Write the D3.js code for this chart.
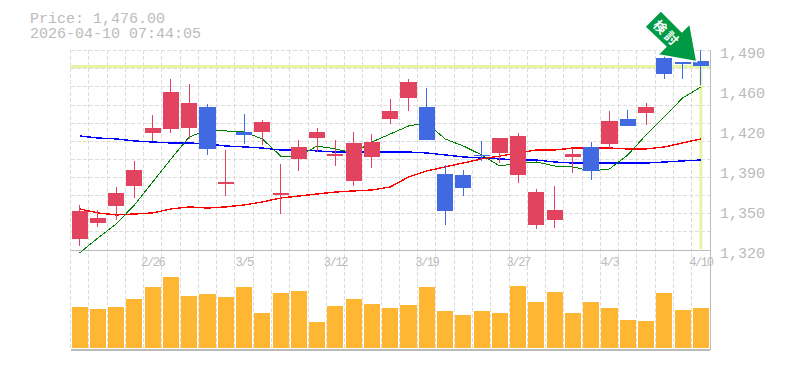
<!DOCTYPE html>
<html>
<head>
<meta charset="utf-8">
<script src="https://cdn.jsdelivr.net/npm/d3@7"></script>
<style>
  html, body { margin: 0; background: #fff; }
  text { font-family: "Liberation Mono", monospace; fill: #bbb; }
  .domain { display: none; }
</style>
</head>
<body>
<div id="chart"></div>
<script>
// header text
var headerLines = ["Price: 1,476.00", "2026-04-10 07:44:05"];
var lastPrice = 1476;
var markText = "検討";

// daily candles, oldest first
var opens = [1329.4,1343,1357.4,1374.4,1419.5,1422.9,1423.7,1441.6,1376.1,1420.3,1420.3,1366.8,1397.4,1415.2,1399.9,1378.7,1399.1,1431.4,1449.2,1441.6,1384.6,1383.8,1400.8,1402.5,1383.8,1341.3,1345.5,1399.1,1407.6,1410.1,1431.4,1436.5,1483.2,1479.8,1480.7];
var highs = [1358.3,1354,1373.5,1395.6,1434.8,1465.4,1461.1,1444.1,1405,1435.6,1430.5,1393.1,1413.5,1423.7,1413.5,1420.3,1418.6,1448.4,1465.4,1457.7,1392.3,1388,1412.7,1415.2,1419.5,1371.9,1374.4,1406.7,1411.8,1438.2,1439,1445,1490,1479.8,1490];
var lows = [1323.4,1339.6,1345.5,1364.2,1412.7,1419.5,1414.4,1400.8,1365.9,1410.1,1409.3,1350.6,1387.2,1403.3,1391.4,1374.4,1389.7,1427.1,1438.2,1413.5,1341.3,1365.9,1395.7,1394,1377,1337.9,1338.7,1385.5,1379.5,1406.7,1425.4,1426.3,1465.4,1465.4,1460.3];
var closes = [1353.2,1347.2,1368.5,1388,1423.7,1454.3,1445,1405.9,1377.8,1417.8,1428.8,1368.5,1407.6,1420.3,1401.6,1411,1411.8,1438.2,1462.8,1413.5,1353.2,1372.7,1399.9,1415.2,1416.9,1369.3,1354,1401.6,1387.2,1429.7,1425.4,1441.6,1469.6,1478.1,1476];

// moving averages
var maGreen = [1317.5,1330.2,1342.1,1358.3,1377.8,1397.4,1416.1,1422,1421.2,1420.3,1414.4,1399.9,1399.9,1408.4,1405.9,1402.5,1411.8,1418.6,1425.4,1428,1414.4,1408.4,1400.8,1391.4,1394,1394.8,1391.4,1390.6,1387.2,1388.9,1400.8,1417.8,1433.1,1449.2,1458.6];
var maRed = [1354.9,1351.5,1349.8,1350.6,1351.5,1354.9,1356.6,1355.7,1356.6,1358.3,1360.8,1364.2,1365.9,1367.6,1369.3,1370.2,1371,1373.6,1382,1387.2,1390.6,1394,1397.4,1399.9,1402.5,1405,1405,1406.7,1406.7,1406.7,1405.9,1405.9,1407.6,1411,1414.4];
var maBlue = [1416.9,1415.2,1414.4,1412.7,1411.8,1411,1411,1410.1,1408.4,1407.6,1406.7,1405,1405,1404.2,1403.3,1403.3,1403.3,1403.3,1403.3,1402.5,1400.8,1399.1,1398.2,1397.4,1396.5,1396.5,1394.8,1393.9,1393.9,1393.9,1393.9,1393.9,1394.8,1395.7,1396.5];

// volume, relative units
var volumes = [41,39,41,49,61,71,52,54,51,61,35,55,57,26,42,49,44,40,43,61,37,33,37,35,62,46,56,35,46,40,28,27,55,38,40];

// axis ticks
var dateIndex = [4,9,14,19,24,29,34];
var dateLabels = ["2/26","3/5","3/12","3/19","3/27","4/3","4/10"];
var priceTicks = [1490,1456,1422,1388,1354,1320];
var priceLabels = ["1,490","1,460","1,420","1,390","1,350","1,320"];

var colorUp = "#e2435f", colorDown = "#4169e1";
var gridColor = "#ddd", axisColor = "#bbb", lastColor = "#e4f5a5";

var svg = d3.select("#chart").append("svg")
    .attr("width", 785)
    .attr("height", 370)
    .style("display", "block");

// "top" is taken by window.top
var plotLeft = 70.5, plotRight = 710, plotTop = 50, plotMid = 250, plotBottom = 350;

var xScale = d3.scaleBand()
    .domain(d3.range(closes.length))
    .range([plotLeft, plotRight])
    .paddingInner(0.12)
    .paddingOuter(0.06);
var center = function(i) { return xScale(i) + xScale.bandwidth() / 2; };
var yScale = d3.scaleLinear().domain([1320, 1490]).range([plotMid, plotTop]);
var vScale = d3.scaleLinear().domain([0, 100]).range([348, 248]);

// grid
var grid = svg.append("g")
    .attr("stroke", gridColor)
    .attr("stroke-dasharray", "4,2")
    .attr("shape-rendering", "crispEdges");
grid.selectAll(".h").data(d3.range(1, 12)).enter().append("line")
    .attr("x1", plotLeft).attr("x2", plotRight)
    .attr("y1", d => yScale(1320 + d * 15.4))
    .attr("y2", d => yScale(1320 + d * 15.4));
grid.selectAll(".v").data(d3.range(closes.length)).enter().append("line")
    .attr("x1", d => xScale(d) - xScale.step() * 0.06)
    .attr("x2", d => xScale(d) - xScale.step() * 0.06)
    .attr("y1", plotTop).attr("y2", plotBottom);

// last price cross hair
var lastX = center(closes.length - 1);
svg.append("line")
    .attr("x1", plotLeft).attr("x2", plotRight)
    .attr("y1", yScale(lastPrice)).attr("y2", yScale(lastPrice))
    .attr("stroke", lastColor).attr("stroke-width", 3);
svg.append("line")
    .attr("x1", lastX).attr("x2", lastX)
    .attr("y1", yScale(lastPrice)).attr("y2", plotMid - 1)
    .attr("stroke", lastColor).attr("stroke-width", 3);

// frame
var frame = svg.append("g")
    .attr("stroke", axisColor)
    .attr("shape-rendering", "crispEdges");
frame.append("line").attr("x1", plotLeft).attr("x2", plotRight).attr("y1", plotMid).attr("y2", plotMid);
frame.append("line").attr("x1", plotLeft).attr("x2", plotRight).attr("y1", plotBottom).attr("y2", plotBottom).attr("stroke-width", 2);
frame.append("line").attr("x1", plotRight).attr("x2", plotRight).attr("y1", plotTop).attr("y2", plotBottom);

// moving averages, not antialiased like the original
var line = d3.line()
    .x(function(d, i) { return center(i); })
    .y(function(d) { return yScale(d); });
[[maBlue, "#0000ff", 1.4], [maRed, "#ff0000", 1.4], [maGreen, "#008000", 1]].forEach(function(s) {
  svg.append("path")
    .attr("d", line(s[0]))
    .attr("fill", "none")
    .attr("stroke", s[1])
    .attr("stroke-width", s[2])
    .attr("shape-rendering", "crispEdges");
});

// candles
var candles = svg.append("g").selectAll("g")
    .data(d3.range(closes.length))
    .enter().append("g")
    .attr("shape-rendering", "crispEdges");
candles.append("line")
    .attr("x1", center).attr("x2", center)
    .attr("y1", d => yScale(highs[d]))
    .attr("y2", d => yScale(lows[d]))
    .attr("stroke", d => closes[d] >= opens[d] ? colorUp : colorDown);
candles.append("rect")
    .attr("x", d => xScale(d))
    .attr("width", xScale.bandwidth())
    .attr("y", d => yScale(Math.max(opens[d], closes[d])))
    .attr("height", d => Math.abs(yScale(opens[d]) - yScale(closes[d])))
    .attr("fill", d => closes[d] >= opens[d] ? colorUp : colorDown);

// volume
svg.append("g").selectAll("rect")
    .data(volumes)
    .enter().append("rect")
    .attr("shape-rendering", "crispEdges")
    .attr("x", (d, i) => xScale(i))
    .attr("width", xScale.bandwidth())
    .attr("y", d => vScale(d))
    .attr("height", d => vScale(0) - vScale(d))
    .attr("fill", "#ffb733");

// axes
var yAxis = d3.axisRight(yScale)
    .tickValues(priceTicks)
    .tickSize(0)
    .tickPadding(0)
    .tickFormat(function(d, i) { return priceLabels[i]; });
svg.append("g")
    .attr("transform", "translate(720,3)")
    .call(yAxis)
    .selectAll("text")
    .style("font-size", "15px")
    .attr("fill", null);

var xAxis = d3.axisBottom(xScale)
    .tickValues(dateIndex)
    .tickSize(0)
    .tickPadding(0)
    .tickFormat(function(d, i) { return dateLabels[i]; });
svg.append("g")
    .attr("transform", "translate(0,257)")
    .call(xAxis)
    .selectAll("text")
    .style("font-size", "12px")
    .style("letter-spacing", "-1.4px")
    .attr("fill", null);

// header
svg.append("text")
    .style("font-size", "15px")
    .selectAll("tspan").data(headerLines).enter().append("tspan")
    .attr("x", 30)
    .attr("y", (d, i) => 23 + i * 15)
    .text(d => d);

// arrow marker pointing at the last candle
var mark = svg.append("g")
    .attr("transform", "translate(" + lastX + "," + yScale(closes[closes.length - 1] + 4) + ")");
mark.append("path")
    .attr("d", "M-4,0 L-43,-7 L-35,-15 L-56,-35 L-40,-51 L-19,-30 L-11,-38 Z")
    .attr("fill", "#009944")
    .attr("stroke", "#fff")
    .attr("stroke-width", 1.5)
    .attr("stroke-linejoin", "round");
mark.append("text")
    .attr("transform", "translate(-34,-28) rotate(45)")
    .attr("text-anchor", "middle")
    .attr("dy", "0.36em")
    .style("font-family", "'Noto Sans CJK JP'")
    .style("font-size", "13px")
    .style("font-weight", "700")
    .style("letter-spacing", "3px")
    .style("fill", "#fff")
    .text(markText);
</script>
</body>
</html>
